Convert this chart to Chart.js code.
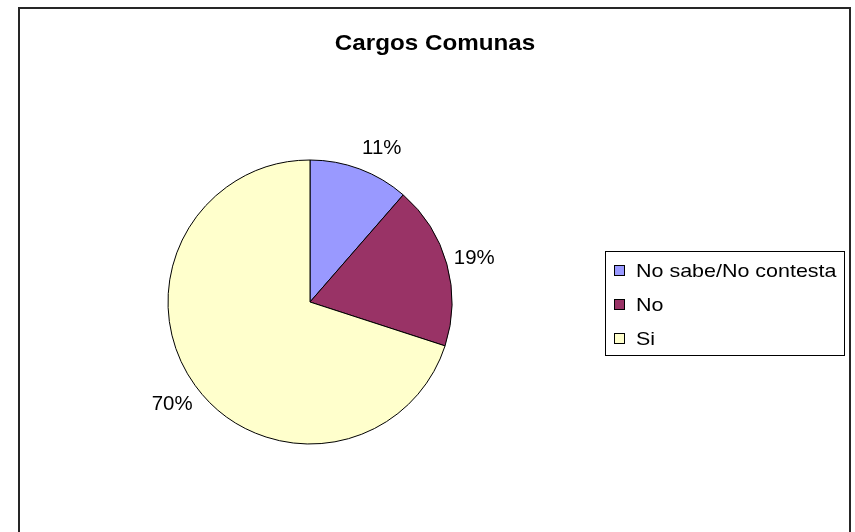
<!DOCTYPE html>
<html>
<head>
<meta charset="utf-8">
<script src="https://cdn.jsdelivr.net/npm/chart.js@4/dist/chart.umd.min.js"></script>
<style>
html,body{margin:0;padding:0;background:#fff;}
#wrap{width:855px;height:532px;position:relative;}
</style>
</head>
<body>
<div id="wrap"><canvas id="c" width="855" height="532"></canvas></div>
<script>
const chartTitle = "Cargos Comunas";
const categories = ["No sabe/No contesta", "No", "Si"];
const values = [11.4, 18.6, 70.0];
const colors = ["#9999FF", "#993366", "#FFFFCC"];

const FONT = '"Liberation Sans", Arial, sans-serif';

function stretchedText(ctx, txt, x, y, sx) {
  ctx.save();
  ctx.translate(x, y);
  ctx.scale(sx, 1);
  ctx.fillText(txt, 0, 0);
  ctx.restore();
}

const decor = {
  id: 'decor',
  beforeDraw(chart) {
    const ctx = chart.ctx;
    ctx.save();
    ctx.fillStyle = '#fff';
    ctx.fillRect(0, 0, chart.width, chart.height);
    ctx.strokeStyle = '#262626';
    ctx.lineWidth = 2;
    ctx.strokeRect(19, 8, 831, 540);
    ctx.restore();
  },
  afterDatasetsDraw(chart) {
    const ctx = chart.ctx;
    const meta = chart.getDatasetMeta(0);
    const data = chart.data.datasets[0].data;
    const total = data.reduce((a, b) => a + b, 0);
    ctx.save();
    // slice labels
    ctx.fillStyle = '#000';
    ctx.font = '20px ' + FONT;
    ctx.textAlign = 'center';
    ctx.textBaseline = 'alphabetic';
    meta.data.forEach((arc, i) => {
      const mid = (arc.startAngle + arc.endAngle) / 2;
      const d = arc.outerRadius * 1.2;
      const c = Math.cos(mid), s = Math.sin(mid);
      const x = arc.x + c * d + (c > 0 && s < -0.5 ? 12 : 0);
      const y = arc.y + s * d + (c > 0 && s < -0.5 ? 4 : 0);
      const txt = Math.round(data[i] / total * 100) + '%';
      stretchedText(ctx, txt, x, y + 7.5, 1.02);
    });
    // title
    ctx.font = 'bold 22px ' + FONT;
    stretchedText(ctx, chartTitle, 435, 50, 1.1);
    // legend
    ctx.lineWidth = 1;
    ctx.strokeStyle = '#000';
    ctx.strokeRect(605.5, 251.5, 239, 104);
    ctx.font = '19px ' + FONT;
    ctx.textAlign = 'left';
    const rows = [270.5, 304.5, 338.5];
    chart.data.labels.forEach((lab, i) => {
      const cy = rows[i];
      ctx.fillStyle = chart.data.datasets[0].backgroundColor[i];
      ctx.fillRect(614, cy - 5.5, 11, 11);
      ctx.strokeRect(614.5, cy - 5, 10, 10);
      ctx.fillStyle = '#000';
      stretchedText(ctx, lab, 636, cy + 6.8, 1.13);
    });
    ctx.restore();
  }
};

new Chart(document.getElementById('c'), {
  type: 'pie',
  data: {
    labels: categories,
    datasets: [{
      data: values,
      backgroundColor: colors,
      borderColor: '#000',
      borderWidth: 1
    }]
  },
  options: {
    responsive: false,
    animation: false,
    devicePixelRatio: 1,
    layout: { padding: { left: 167.5, top: 159.5, right: 402.5, bottom: 87.5 } },
    plugins: {
      legend: { display: false },
      title: { display: false },
      tooltip: { enabled: false }
    },
    elements: { arc: { borderAlign: 'center' } }
  },
  plugins: [decor]
});
</script>
</body>
</html>
